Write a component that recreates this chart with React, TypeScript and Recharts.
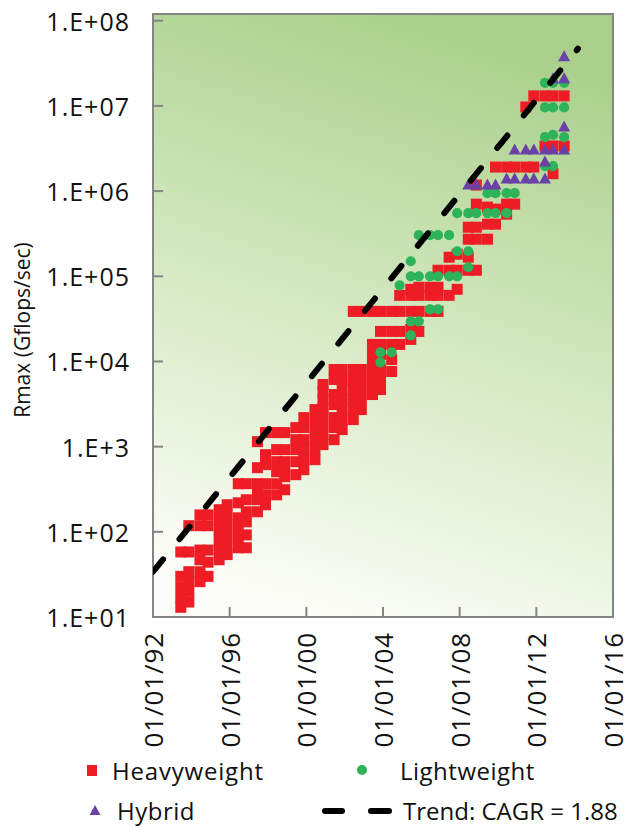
import { ScatterChart, Scatter, XAxis, YAxis, ReferenceArea } from "recharts";

// Top-10 systems of each TOP500 list: [list date as decimal year, Rmax in Gflops/sec]
type Entry = [number, number];

const heavyweight1993to1998: Entry[] = [
  [1993.45, 13], [1993.45, 17], [1993.45, 22.5], [1993.45, 30], [1993.45, 58],
  [1993.87, 15], [1993.87, 20], [1993.87, 26], [1993.87, 34], [1993.87, 58], [1993.87, 118],
  [1994.45, 26], [1994.45, 34], [1994.45, 47], [1994.45, 61], [1994.45, 118], [1994.45, 158],
  [1994.87, 30], [1994.87, 44], [1994.87, 61], [1994.87, 118], [1994.87, 158],
  [1995.45, 47], [1995.45, 61], [1995.45, 80], [1995.45, 106], [1995.45, 138], [1995.45, 182],
  [1995.87, 54], [1995.87, 70], [1995.87, 92], [1995.87, 121], [1995.87, 158], [1995.87, 208],
  [1996.45, 65], [1996.45, 85], [1996.45, 111], [1996.45, 146], [1996.45, 219], [1996.45, 367],
  [1996.87, 65], [1996.87, 92], [1996.87, 131], [1996.87, 172], [1996.87, 238], [1996.87, 367],
  [1997.45, 172], [1997.45, 238], [1997.45, 312], [1997.45, 367], [1997.45, 566], [1997.45, 1145],
  [1997.87, 208], [1997.87, 272], [1997.87, 367], [1997.87, 614], [1997.87, 805], [1997.87, 1462],
  [1998.45, 272], [1998.45, 367], [1998.45, 508], [1998.45, 666], [1998.45, 922], [1998.45, 1462],
  [1998.87, 312], [1998.87, 444], [1998.87, 566], [1998.87, 666], [1998.87, 922], [1998.87, 1462],
];

const heavyweight1999to2004: Entry[] = [
  [1999.45, 469], [1999.45, 666], [1999.45, 922], [1999.45, 1208], [1999.45, 1673],
  [1999.87, 536], [1999.87, 703], [1999.87, 922], [1999.87, 1208], [1999.87, 1673], [1999.87, 2194],
  [2000.45, 703], [2000.45, 922], [2000.45, 1208], [2000.45, 1585], [2000.45, 2078], [2000.45, 2724],
  [2000.87, 1056], [2000.87, 1384], [2000.87, 1814], [2000.87, 2378], [2000.87, 2900], [2000.87, 3571],
  [2000.87, 4400], [2000.87, 5360],
  [2001.45, 1208], [2001.45, 1673], [2001.45, 2194], [2001.45, 3119], [2001.45, 4090], [2001.45, 6140],
  [2001.45, 8050],
  [2001.87, 1585], [2001.87, 2078], [2001.87, 2724], [2001.87, 3571], [2001.87, 4683], [2001.87, 6140],
  [2001.87, 8050],
  [2002.45, 2078], [2002.45, 2724], [2002.45, 3571], [2002.45, 4683], [2002.45, 6140], [2002.45, 8050], [2002.45, 38700],
  [2002.87, 2724], [2002.87, 3571], [2002.87, 4683], [2002.87, 6140], [2002.87, 8050], [2002.87, 38700],
  [2003.45, 4090], [2003.45, 5360], [2003.45, 7030], [2003.45, 9220], [2003.45, 12080], [2003.45, 15850], [2003.45, 38700],
  [2003.87, 4683], [2003.87, 6140], [2003.87, 8050], [2003.87, 12080], [2003.87, 15850], [2003.87, 22530], [2003.87, 38700],
  [2004.45, 7620], [2004.45, 10550], [2004.45, 15850], [2004.45, 22530], [2004.45, 38700],
];

const heavyweight2005to2013: Entry[] = [
  [2004.87, 15850], [2004.87, 22530], [2004.87, 38700], [2004.87, 59700],
  [2005.45, 18150], [2005.45, 23780], [2005.45, 38700], [2005.45, 59700], [2005.45, 70300],
  [2005.87, 22530], [2005.87, 38700], [2005.87, 59700], [2005.87, 74300],
  [2006.45, 38700], [2006.45, 59700], [2006.45, 74300],
  [2006.87, 38700], [2006.87, 59700], [2006.87, 74300], [2006.87, 117700],
  [2007.45, 59700], [2007.45, 117700], [2007.45, 167400],
  [2007.87, 70300], [2007.87, 117700], [2007.87, 181500],
  [2008.45, 117700], [2008.45, 167400], [2008.45, 272400], [2008.45, 376700],
  [2008.87, 117700], [2008.87, 272400], [2008.87, 376700], [2008.87, 703000], [2008.87, 1178000],
  [2009.45, 272400], [2009.45, 409000], [2009.45, 648600],
  [2009.87, 409000], [2009.87, 614000], [2009.87, 1915000],
  [2010.45, 536000], [2010.45, 703000], [2010.45, 1915000],
  [2010.87, 703000], [2010.87, 1915000],
  [2011.45, 1915000], [2011.45, 9720000],
  [2011.87, 1915000], [2011.87, 13120000],
  [2012.45, 3380000], [2012.45, 13120000],
  [2012.87, 1600000], [2012.87, 3380000], [2012.87, 13120000],
  [2013.45, 3380000], [2013.45, 13120000],
];

const lightweight: Entry[] = [
  [2003.87, 9730], [2003.87, 12760],
  [2004.45, 12760],
  [2004.87, 78400],
  [2005.45, 20230], [2005.45, 29580], [2005.45, 100000], [2005.45, 150100],
  [2005.87, 29580], [2005.87, 100000], [2005.87, 303500],
  [2006.45, 40880], [2006.45, 100000], [2006.45, 303500],
  [2006.87, 40880], [2006.87, 100000], [2006.87, 303500],
  [2007.45, 100000], [2007.45, 303500],
  [2007.87, 100000], [2007.87, 196800], [2007.87, 550800],
  [2008.45, 127600], [2008.45, 196800], [2008.45, 550800],
  [2008.87, 550800],
  [2009.45, 550800], [2009.45, 946000],
  [2009.87, 550800], [2009.87, 946000],
  [2010.45, 550800], [2010.45, 946000],
  [2010.87, 946000],
  [2012.45, 1968000], [2012.45, 4310000], [2012.45, 9600000], [2012.45, 18670000],
  [2012.87, 1968000], [2012.87, 4560000], [2012.87, 9600000], [2012.87, 18670000],
  [2013.45, 4310000], [2013.45, 9600000], [2013.45, 18670000],
];

const hybrid: Entry[] = [
  [2008.45, 1178000], [2008.87, 1178000], [2009.45, 1178000], [2009.87, 1178000],
  [2010.45, 1384000],
  [2010.87, 1384000], [2010.87, 3035000],
  [2011.45, 1384000], [2011.45, 3035000],
  [2011.87, 1384000], [2011.87, 3035000],
  [2012.45, 1384000], [2012.45, 2190000], [2012.45, 3035000],
  [2012.87, 3035000], [2012.87, 20800000],
  [2013.45, 3035000], [2013.45, 5660000], [2013.45, 20800000], [2013.45, 37700000],
];

// dashed trend, CAGR = 1.88
const trendDates = [1992.0, 2014.17];
const trendRmax = [34, 4.7e7];

const dateTicks = [1992, 1996, 2000, 2004, 2008, 2012, 2016];
const dateTickLabels = ["01/01/92", "01/01/96", "01/01/00", "01/01/04", "01/01/08", "01/01/12", "01/01/16"];
const rmaxTicks = [1e1, 1e2, 1e3, 1e4, 1e5, 1e6, 1e7, 1e8];
const rmaxTickLabels = ["1.E+01", "1.E+02", "1.E+3", "1.E+04", "1.E+05", "1.E+06", "1.E+07", "1.E+08"];

const RED = "#ee1c25";
const GREEN = "#2eb35a";
const PURPLE = "#6a41a6";
const AXIS = "#858585";
const FONT = "'Open Sans', 'Noto Sans', sans-serif";

const toPoints = (rows: Entry[]) => rows.map(([date, rmax]) => ({ date, rmax }));
const trend = trendDates.map((date, i) => ({ date, rmax: trendRmax[i] }));

const Square = (p: any) => <rect x={p.cx - 5.5} y={p.cy - 5.5} width={11} height={11} fill={RED} />;
const Dot = (p: any) => <circle cx={p.cx} cy={p.cy} r={5.1} fill={GREEN} />;
const Triangle = (p: any) => (
  <path d={`M${p.cx},${p.cy - 6.5}L${p.cx + 6},${p.cy + 4.5}L${p.cx - 6},${p.cy + 4.5}Z`} fill={PURPLE} />
);
const NoMark = () => <g />;

function DateTick(props: any) {
  const { x, y, payload } = props;
  const label = dateTickLabels[dateTicks.indexOf(payload.value)];
  const ty = y + 15;
  return (
    <g>
      <line x1={x} y1={y} x2={x} y2={y - 10} stroke={AXIS} strokeWidth={2} />
      <text x={x} y={ty} transform={`rotate(-90 ${x} ${ty})`} textAnchor="end" dominantBaseline="central"
        fontSize={26} letterSpacing={0.9} fill="#111" fontFamily={FONT}>{label}</text>
    </g>
  );
}

function RmaxTick(props: any) {
  const { x, y, payload } = props;
  const label = rmaxTickLabels[rmaxTicks.indexOf(payload.value)];
  return (
    <g>
      <line x1={x} y1={y} x2={x + 10} y2={y} stroke={AXIS} strokeWidth={2} />
      <text x={x - 23} y={y} textAnchor="end" dominantBaseline="central" fontSize={25} letterSpacing={1}
        fill="#111" fontFamily={FONT}>
        {label}
      </text>
    </g>
  );
}

function Legend() {
  const text = { fontSize: 24, fill: "#111", fontFamily: FONT, dominantBaseline: "central" as const };
  return (
    <svg width={632} height={827} style={{ position: "absolute", left: 0, top: 0, pointerEvents: "none" }}>
      <text x={22} y={330} transform="rotate(-90 22 330)" textAnchor="middle" dominantBaseline="central"
        fontSize={21} fill="#111" fontFamily={FONT}>Rmax (Gflops/sec)</text>
      <rect x={87} y={765} width={10} height={11} fill={RED} />
      <text x={112} y={770} letterSpacing={0.8} {...text}>Heavyweight</text>
      <circle cx={362} cy={770} r={5} fill={GREEN} />
      <text x={400} y={770} letterSpacing={0.5} {...text}>Lightweight</text>
      <path d="M95,805L100.5,815L89.5,815Z" fill={PURPLE} />
      <text x={117} y={810} letterSpacing={0.5} {...text}>Hybrid</text>
      <line x1={325} y1={811} x2={342} y2={811} stroke="#000" strokeWidth={6} strokeLinecap="round" />
      <line x1={371} y1={811} x2={389} y2={811} stroke="#000" strokeWidth={6} strokeLinecap="round" />
      <text x={403} y={810} {...text}>Trend: CAGR = 1.88</text>
    </svg>
  );
}

export default function App() {
  return (
    <div style={{ position: "absolute", left: 0, top: 0, width: 632, height: 827, background: "#fff" }}>
      <ScatterChart width={632} height={760} margin={{ top: 14, right: 19, bottom: 0, left: 0 }}>
        <defs>
          <linearGradient id="plotBg" x1="0.62" y1="0" x2="0.38" y2="1">
            <stop offset="0" stopColor="#a9cf8a" />
            <stop offset="0.5" stopColor="#d3e8c0" />
            <stop offset="1" stopColor="#fcfdf8" />
          </linearGradient>
        </defs>
        <XAxis type="number" dataKey="date" domain={[1992, 2016]} ticks={dateTicks} interval={0} height={143}
          allowDataOverflow axisLine={{ stroke: AXIS, strokeWidth: 2 }} tickLine={false} tickSize={0} tickMargin={0}
          tick={(p: any) => <DateTick {...p} />} />
        <YAxis type="number" dataKey="rmax" scale="log" domain={[10, 1.2e8]} ticks={rmaxTicks} interval={0} width={153}
          allowDataOverflow axisLine={{ stroke: AXIS, strokeWidth: 2 }} tickLine={false} tickSize={0} tickMargin={0}
          tick={(p: any) => <RmaxTick {...p} />} />
        <ReferenceArea x1={1992} x2={2016} y1={10} y2={1.2e8} fill="url(#plotBg)" fillOpacity={1}
          stroke={AXIS} strokeWidth={2} />
        <Scatter data={toPoints(heavyweight1993to1998)} shape={Square} isAnimationActive={false} />
        <Scatter data={toPoints(heavyweight1999to2004)} shape={Square} isAnimationActive={false} />
        <Scatter data={toPoints(heavyweight2005to2013)} shape={Square} isAnimationActive={false} />
        <Scatter data={toPoints(lightweight)} shape={Dot} isAnimationActive={false} />
        <Scatter data={toPoints(hybrid)} shape={Triangle} isAnimationActive={false} />
        <Scatter data={trend} shape={NoMark} isAnimationActive={false} lineType="joint"
          line={{ stroke: "#000", strokeWidth: 6, strokeDasharray: "16 26", strokeLinecap: "round" }} />
      </ScatterChart>
      <Legend />
    </div>
  );
}
